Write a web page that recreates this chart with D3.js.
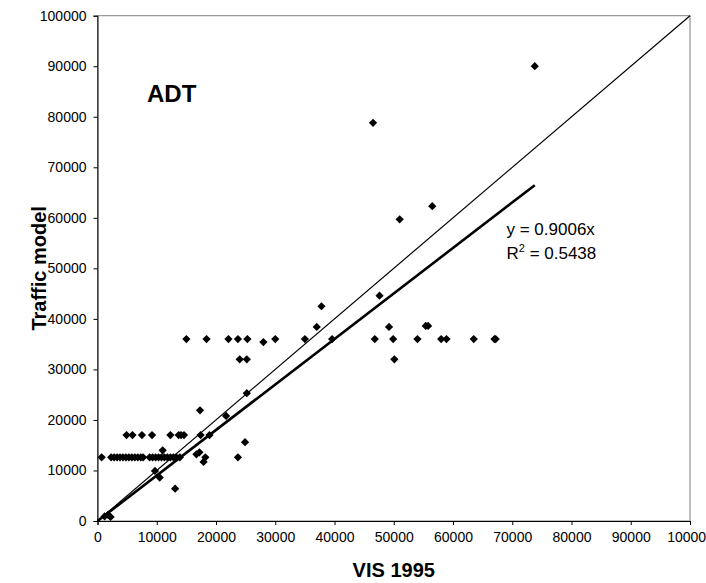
<!DOCTYPE html>
<html>
<head>
<meta charset="utf-8">
<script src="https://cdn.jsdelivr.net/npm/d3@7"></script>
<style>
  body { margin: 0; background: #fff; }
  text { font-family: Arial, "Liberation Sans", sans-serif; }
</style>
</head>
<body>
<svg id="chart" width="706" height="583"></svg>
<script>
// VIS 1995 counts (x) vs traffic model (y)
var visX = [
  700, 2300, 2800, 3300, 3800, 4300, 4800, 5300, 5800, 6300, 6800, 7300, 7700,
  8800, 9300, 9800, 10300, 10800, 11300, 11800, 12300, 12800, 13300, 13900, 18200, 23700,
  4900, 5900, 7500, 9200, 12300, 13700, 14100, 14600, 17400, 18900,
  15000, 18400, 22100, 23700, 25300, 30000, 35000, 39600, 46800, 49900, 54000, 58000, 58900, 63500, 67000, 67200,
  28000, 24000, 25200, 50100,
  1200, 1800, 2200, 9700, 10500, 11000, 13100, 16700, 17200, 17900, 17300, 21700, 25200, 24900,
  37000, 37800, 47600, 49200, 55400, 55800, 46500, 56500, 51000, 73800
]
var modelY = [
  12600, 12600, 12600, 12600, 12600, 12600, 12600, 12600, 12600, 12600, 12600, 12600, 12600,
  12600, 12600, 12600, 12600, 12600, 12600, 12600, 12600, 12600, 12600, 12600, 12600, 12600,
  17000, 17000, 17000, 17000, 17000, 17000, 17000, 17000, 17000, 17000,
  36000, 36000, 36000, 36000, 36000, 36000, 36000, 36000, 36000, 36000, 36000, 36000, 36000, 36000, 36000, 36000,
  35400, 32000, 32000, 32000,
  900, 1200, 800, 9900, 8600, 14000, 6400, 13200, 13600, 11700, 21900, 20800, 25300, 15600,
  38400, 42500, 44600, 38400, 38600, 38600, 78800, 62300, 59700, 90000
]
var xTicks = [0, 10000, 20000, 30000, 40000, 50000, 60000, 70000, 80000, 90000, 100000]
var yTicks = [0, 10000, 20000, 30000, 40000, 50000, 60000, 70000, 80000, 90000, 100000]
var slope = 0.9006
var rSquared = 0.5438

var svg = d3.select("#chart")
var margin = {left: 97.5, top: 15.7, right: 16, bottom: 62}
var width = 706 - margin.left - margin.right
var height = 583 - margin.top - margin.bottom

var x = d3.scaleLinear().domain([0, 100000]).range([0, width])
var y = d3.scaleLinear().domain([0, 100000]).range([height, 0])

var g = svg.append("g").attr("transform", "translate(" + margin.left + "," + margin.top + ")")

// plot area border (grey on top/right)
g.append("rect")
  .attr("width", width).attr("height", height)
  .attr("fill", "none").attr("stroke", "#808080").attr("stroke-width", 1)

var fmt = d3.format("d")

let yAxis = g.append("g")
  .call(d3.axisLeft(y).tickValues(yTicks).tickFormat(fmt).tickSize(4).tickPadding(7))
yAxis.selectAll("text").attr("font-size", 14).attr("fill", "#000")
yAxis.selectAll("line, path").attr("stroke", "#000")

let xAxis = g.append("g")
  .attr("transform", "translate(0," + height + ")")
  .call(d3.axisBottom(x).tickValues(xTicks).tickFormat(fmt).tickSize(4).tickPadding(7))
xAxis.selectAll("text").attr("font-size", 14).attr("fill", "#000")
xAxis.selectAll("line, path").attr("stroke", "#000")

// 1:1 line
g.append("line")
  .attr("x1", x(0)).attr("y1", y(0))
  .attr("x2", x(100000)).attr("y2", y(100000))
  .attr("stroke", "#000").attr("stroke-width", 1.2)

// trend line through origin
var maxX = d3.max(visX)
g.append("line")
  .attr("x1", x(0)).attr("y1", y(0))
  .attr("x2", x(maxX)).attr("y2", y(slope * maxX))
  .attr("stroke", "#000").attr("stroke-width", 2.6)

var points = visX.map((v, i) => ({vx: v, vy: modelY[i]}))
g.selectAll("path.pt")
  .data(points)
  .enter()
  .append("path")
  .attr("class", "pt")
  .attr("d", d3.symbol().type(d3.symbolSquare).size(34))
  .attr("transform", (d) => "translate(" + x(d.vx) + "," + y(d.vy) + ") rotate(45)")
  .attr("fill", "#000")

// equation labels
var eq = g.append("text")
  .attr("x", 409).attr("y", 219.5)
  .attr("font-size", 17)
  .text("y = " + slope + "x")
var r2 = g.append("text")
  .attr("x", 409).attr("y", 243.5)
  .attr("font-size", 17)
r2.append("tspan").text("R")
r2.append("tspan").attr("font-size", 11).attr("dy", -7).text("2")
r2.append("tspan").attr("dy", 7).text(" = " + rSquared)

g.append("text")
  .attr("x", 49.5).attr("y", 86.5)
  .attr("font-size", 24).attr("font-weight", "bold")
  .text("ADT")

// axis titles
svg.append("text")
  .attr("x", margin.left + width / 2).attr("y", 577)
  .attr("text-anchor", "middle")
  .attr("font-size", 20).attr("font-weight", "bold")
  .text("VIS 1995")

svg.append("text")
  .attr("transform", "translate(46," + (margin.top + height / 2) + ") rotate(-90)")
  .attr("text-anchor", "middle")
  .attr("font-size", 20).attr("font-weight", "bold")
  .text("Traffic model")
</script>
</body>
</html>
